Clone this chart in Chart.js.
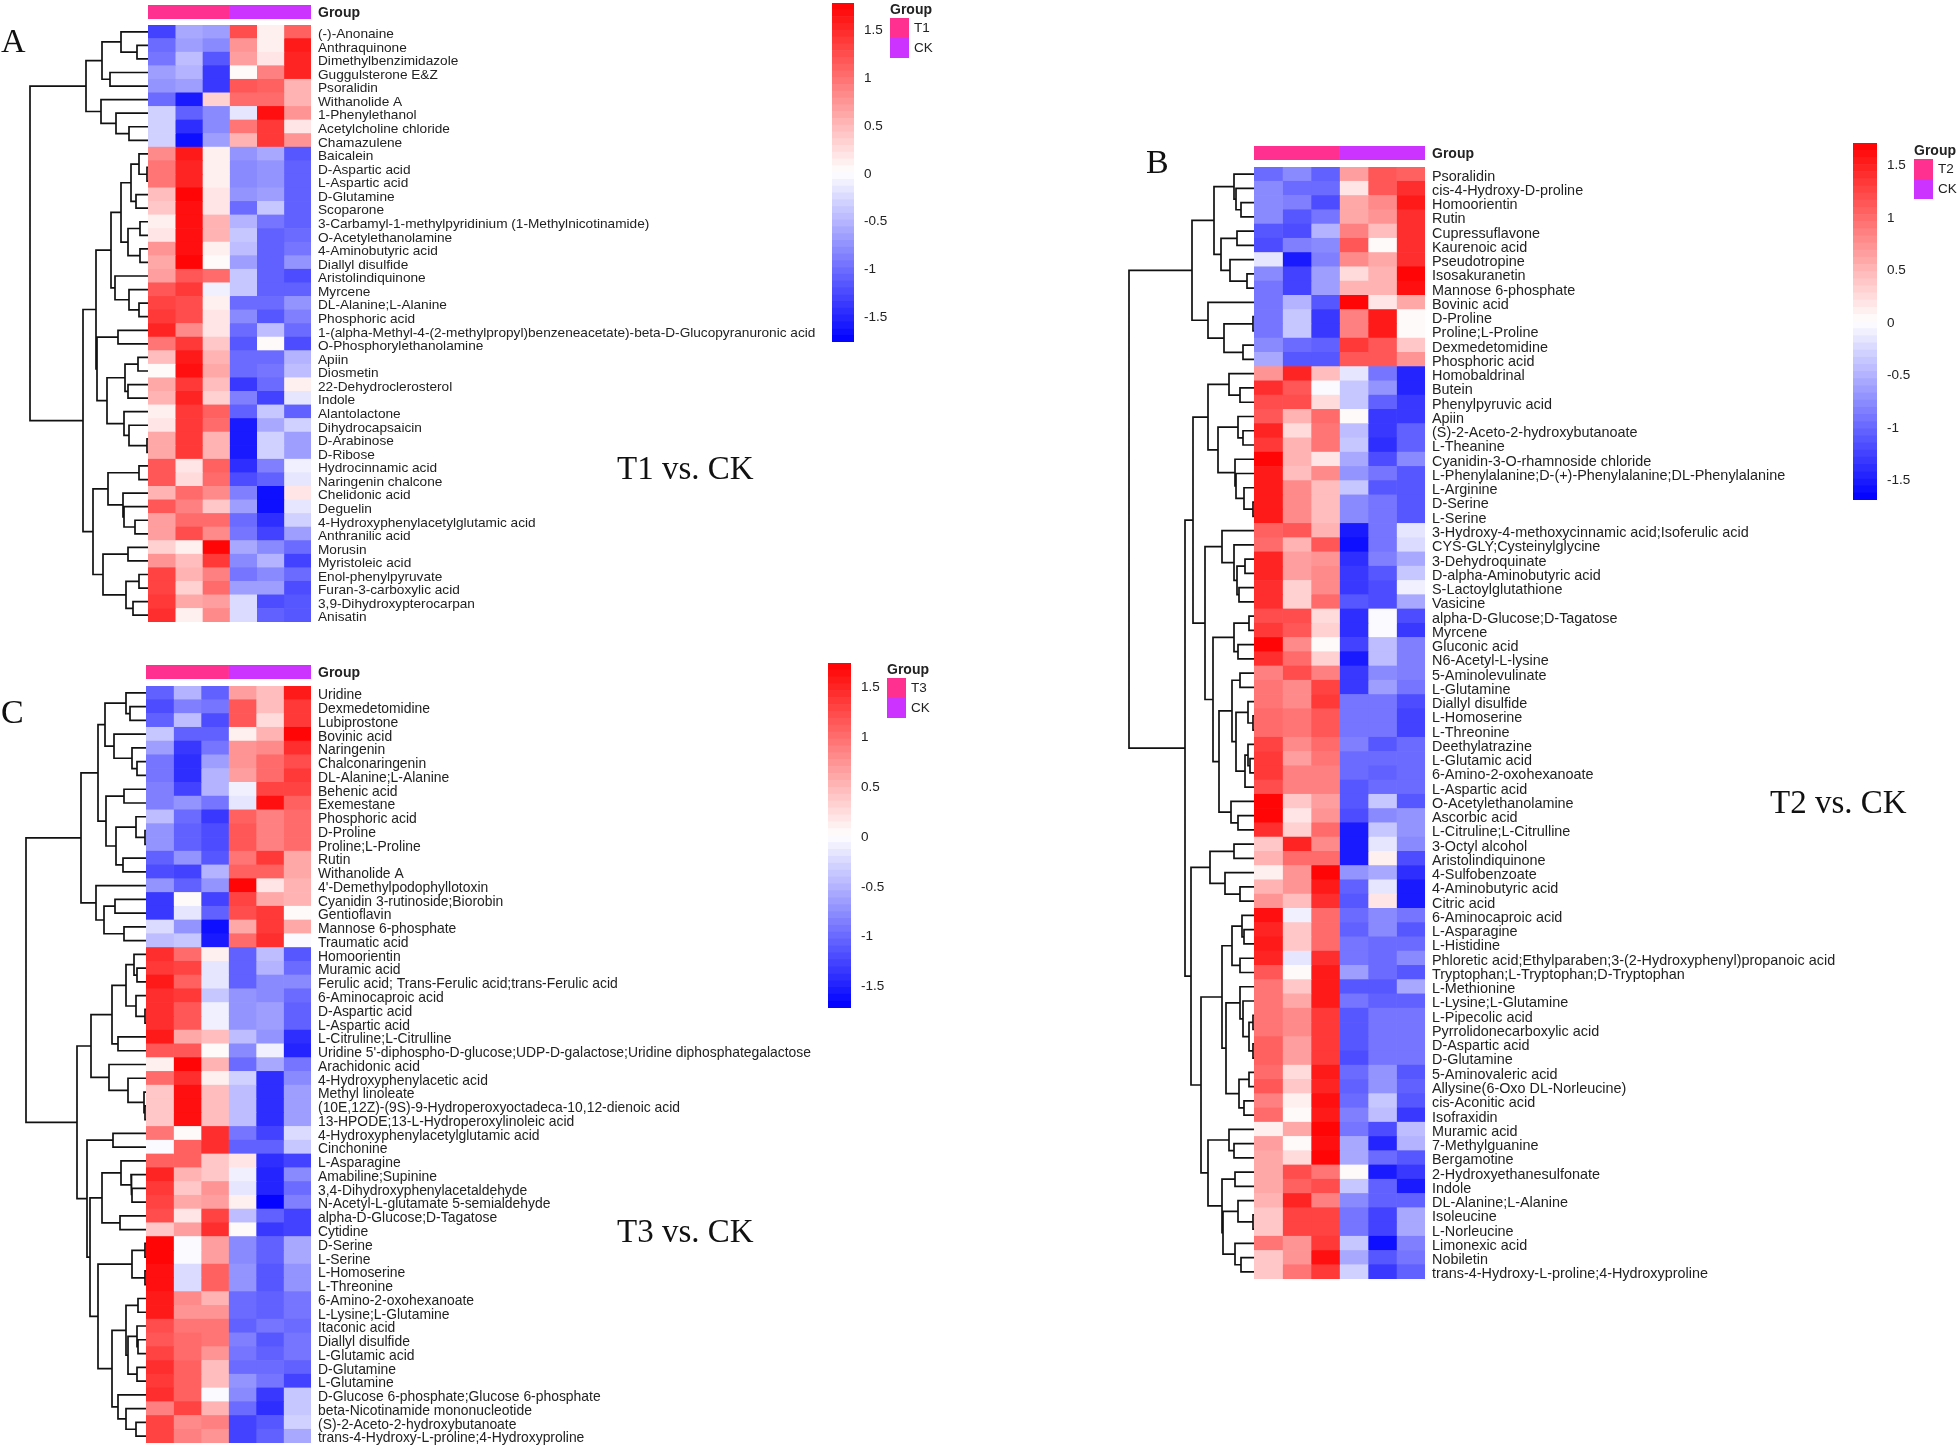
<!DOCTYPE html>
<html lang="en">
  <head>
    <meta charset="UTF-8" />
    <title>Metabolite heatmaps</title>
    <script src="https://cdn.jsdelivr.net/npm/chart.js@4"></script>
    <style>
      body {
        margin: 0;
        width: 1960px;
        height: 1446px;
        background: #ffffff;
        position: relative;
        overflow: hidden;
        font-family: "Liberation Sans", Arial, sans-serif;
        color: #222;
      }
      canvas,
      .txt,
      .swatch {
        position: absolute;
      }
      .txt {
        white-space: nowrap;
        line-height: 1;
      }
      .serif {
        font-family: "Liberation Serif", "Times New Roman", serif;
        color: #111;
      }
    </style>
  </head>
  <body>
    <script>
      const namesA = [
        "(-)-Anonaine", "Anthraquinone", "Dimethylbenzimidazole", "Guggulsterone E&Z", "Psoralidin",
        "Withanolide A", "1-Phenylethanol", "Acetylcholine chloride", "Chamazulene", "Baicalein",
        "D-Aspartic acid", "L-Aspartic acid", "D-Glutamine", "Scoparone",
        "3-Carbamyl-1-methylpyridinium (1-Methylnicotinamide)", "O-Acetylethanolamine", "4-Aminobutyric acid",
        "Diallyl disulfide", "Aristolindiquinone", "Myrcene", "DL-Alanine;L-Alanine", "Phosphoric acid",
        "1-(alpha-Methyl-4-(2-methylpropyl)benzeneacetate)-beta-D-Glucopyranuronic acid", "O-Phosphorylethanolamine",
        "Apiin", "Diosmetin", "22-Dehydroclerosterol", "Indole", "Alantolactone", "Dihydrocapsaicin", "D-Arabinose",
        "D-Ribose", "Hydrocinnamic acid", "Naringenin chalcone", "Chelidonic acid", "Deguelin",
        "4-Hydroxyphenylacetylglutamic acid", "Anthranilic acid", "Morusin", "Myristoleic acid", "Enol-phenylpyruvate",
        "Furan-3-carboxylic acid", "3,9-Dihydroxypterocarpan", "Anisatin",
      ];
      const valuesA = [
        [-1.3, -0.6, -0.7, 1.25, 0.1, 1.1],
        [-1.05, -0.65, -0.85, 0.75, 0.1, 1.6],
        [-0.95, -0.45, -1.2, 0.7, 0.2, 1.5],
        [-0.7, -0.5, -1.35, 0.03, 0.9, 1.5],
        [-0.75, -0.65, -1.35, 1.15, 1.1, 0.5],
        [-1.05, -1.6, 0.3, 1.0, 1.05, 0.5],
        [-0.35, -1.1, -0.85, -0.15, 1.65, 0.75],
        [-0.3, -1.45, -0.8, 0.95, 1.4, 0.2],
        [-0.3, -1.65, -0.65, 0.55, 1.35, 0.75],
        [0.85, 1.6, 0.08, -0.75, -0.6, -1.2],
        [0.95, 1.55, 0.1, -0.8, -0.75, -1.1],
        [0.95, 1.55, 0.1, -0.8, -0.75, -1.1],
        [0.45, 1.75, 0.2, -0.75, -0.65, -1.1],
        [0.4, 1.7, 0.2, -1.0, -0.4, -1.1],
        [0.08, 1.7, 0.55, -0.5, -0.95, -1.1],
        [0.15, 1.7, 0.5, -0.4, -1.1, -1.0],
        [0.75, 1.65, 0.12, -0.45, -1.1, -0.95],
        [0.6, 1.75, 0.05, -0.65, -1.1, -0.75],
        [0.65, 1.15, 1.0, -0.4, -1.1, -1.25],
        [1.15, 1.4, -0.12, -0.4, -1.1, -1.1],
        [1.3, 1.25, 0.12, -1.0, -1.05, -0.75],
        [1.35, 1.25, 0.2, -0.85, -1.15, -0.9],
        [1.55, 0.8, 0.2, -1.05, -0.45, -1.0],
        [0.95, 1.35, 0.4, -1.2, 0.03, -1.25],
        [0.45, 1.6, 0.5, -1.0, -1.0, -0.5],
        [0.03, 1.7, 0.6, -1.05, -0.95, -0.45],
        [0.6, 1.35, 0.45, -1.4, -1.05, 0.1],
        [0.55, 1.55, 0.35, -0.9, -1.3, -0.15],
        [0.1, 1.4, 1.1, -1.1, -0.4, -1.1],
        [0.2, 1.4, 1.0, -1.6, -0.6, -0.3],
        [0.6, 1.4, 0.5, -1.6, -0.35, -0.65],
        [0.6, 1.4, 0.5, -1.6, -0.35, -0.65],
        [1.2, 0.2, 1.1, -1.45, -0.9, -0.1],
        [1.2, 0.25, 1.05, -1.25, -1.1, -0.2],
        [0.5, 1.05, 0.85, -0.9, -1.65, 0.2],
        [1.15, 0.9, 0.4, -0.7, -1.65, -0.2],
        [0.7, 1.05, 1.05, -1.0, -1.45, -0.35],
        [0.7, 1.25, 0.8, -0.95, -1.3, -0.65],
        [0.3, 0.08, 1.75, -0.6, -0.8, -1.05],
        [0.75, 0.45, 1.4, -0.85, -0.55, -1.3],
        [1.3, 0.55, 0.9, -0.95, -0.85, -1.05],
        [1.3, 0.3, 1.0, -0.7, -0.7, -1.25],
        [1.35, 0.6, 0.7, -0.25, -1.25, -1.15],
        [1.45, 0.1, 0.85, -0.25, -1.1, -1.15],
      ];
      // tree nodes are [height, left, right], 0 is a leaf, leaves run in row order
      const treeA = [118,
        [62,
          [46, [27, 0, [11, 0, 0]], [38, 0, 0]],
          [47, 0, [32, 0, [19, 0, 0]]]],
        [65,
          [52,
            [37,
              [27, [17, [9, 0, [1, 0, 0]], [12, 0, 0]], [20, [8, 0, 0], [8, 0, 0]]],
              [33, 0, [19, 0, [9, 0, 0]]]],
            [51,
              [30, 0, 0],
              [41, [23, [10, 0, 0], [20, 0, 0]], [24, 0, [19, 0, [1, 0, 0]]]]]],
          [55,
            [40, [9, 0, 0], [25, 0, [24, 0, [13, 0, 0]]]],
            [45, [20, 0, 0], [22, [9, 0, 0], [15, 0, 0]]]]]];

      const namesB = [
        "Psoralidin", "cis-4-Hydroxy-D-proline", "Homoorientin", "Rutin", "Cupressuflavone", "Kaurenoic acid",
        "Pseudotropine", "Isosakuranetin", "Mannose 6-phosphate", "Bovinic acid", "D-Proline", "Proline;L-Proline",
        "Dexmedetomidine", "Phosphoric acid", "Homobaldrinal", "Butein", "Phenylpyruvic acid", "Apiin",
        "(S)-2-Aceto-2-hydroxybutanoate", "L-Theanine", "Cyanidin-3-O-rhamnoside chloride",
        "L-Phenylalanine;D-(+)-Phenylalanine;DL-Phenylalanine", "L-Arginine", "D-Serine", "L-Serine",
        "3-Hydroxy-4-methoxycinnamic acid;Isoferulic acid", "CYS-GLY;Cysteinylglycine", "3-Dehydroquinate",
        "D-alpha-Aminobutyric acid", "S-Lactoylglutathione", "Vasicine", "alpha-D-Glucose;D-Tagatose", "Myrcene",
        "Gluconic acid", "N6-Acetyl-L-lysine", "5-Aminolevulinate", "L-Glutamine", "Diallyl disulfide", "L-Homoserine",
        "L-Threonine", "Deethylatrazine", "L-Glutamic acid", "6-Amino-2-oxohexanoate", "L-Aspartic acid",
        "O-Acetylethanolamine", "Ascorbic acid", "L-Citruline;L-Citrulline", "3-Octyl alcohol", "Aristolindiquinone",
        "4-Sulfobenzoate", "4-Aminobutyric acid", "Citric acid", "6-Aminocaproic acid", "L-Asparagine", "L-Histidine",
        "Phloretic acid;Ethylparaben;3-(2-Hydroxyphenyl)propanoic acid", "Tryptophan;L-Tryptophan;D-Tryptophan",
        "L-Methionine", "L-Lysine;L-Glutamine", "L-Pipecolic acid", "Pyrrolidonecarboxylic acid", "D-Aspartic acid",
        "D-Glutamine", "5-Aminovaleric acid", "Allysine(6-Oxo DL-Norleucine)", "cis-Aconitic acid", "Isofraxidin",
        "Muramic acid", "7-Methylguanine", "Bergamotine", "2-Hydroxyethanesulfonate", "Indole", "DL-Alanine;L-Alanine",
        "Isoleucine", "L-Norleucine", "Limonexic acid", "Nobiletin", "trans-4-Hydroxy-L-proline;4-Hydroxyproline",
      ];
      const valuesB = [
        [-1.0, -0.75, -1.05, 0.65, 1.15, 1.05],
        [-0.75, -1.0, -1.0, 0.2, 1.15, 1.4],
        [-0.8, -0.85, -1.2, 0.6, 0.75, 1.5],
        [-0.8, -1.15, -0.9, 0.6, 0.7, 1.4],
        [-1.15, -1.2, -0.5, 0.85, 0.45, 1.4],
        [-1.2, -0.85, -0.75, 1.1, 0.03, 1.4],
        [-0.2, -1.55, -0.85, 0.75, 0.6, 1.4],
        [-0.75, -1.25, -0.65, 0.25, 0.5, 1.7],
        [-0.9, -1.25, -0.65, 0.5, 0.5, 1.6],
        [-0.95, -0.5, -1.15, 1.7, 0.2, 0.55],
        [-0.95, -0.4, -1.3, 0.85, 1.55, 0.05],
        [-0.95, -0.4, -1.3, 0.85, 1.55, 0.05],
        [-0.8, -1.0, -1.05, 1.3, 1.15, 0.4],
        [-0.6, -1.1, -1.1, 1.1, 1.15, 0.7],
        [0.7, 1.45, 0.45, -0.2, -0.95, -1.45],
        [1.4, 1.15, -0.05, -0.35, -0.7, -1.45],
        [1.2, 1.2, 0.25, -0.35, -1.05, -1.3],
        [1.1, 0.5, 1.0, 0.04, -1.3, -1.3],
        [1.45, 0.25, 0.95, -0.45, -1.3, -1.05],
        [1.3, 0.5, 0.95, -0.35, -1.4, -1.05],
        [1.7, 0.5, 0.2, -0.6, -1.2, -0.8],
        [1.55, 0.45, 0.75, -0.7, -0.95, -1.1],
        [1.5, 0.8, 0.45, -0.4, -1.15, -1.15],
        [1.5, 0.8, 0.45, -0.75, -0.95, -1.15],
        [1.5, 0.8, 0.45, -0.75, -0.95, -1.15],
        [1.05, 1.15, 0.5, -1.55, -0.95, -0.2],
        [1.0, 0.5, 1.15, -1.6, -0.9, -0.25],
        [1.45, 0.65, 0.7, -1.4, -0.85, -0.55],
        [1.45, 0.65, 0.75, -1.35, -1.1, -0.4],
        [1.4, 0.3, 0.8, -1.3, -1.2, -0.08],
        [1.4, 0.3, 1.0, -1.1, -1.2, -0.55],
        [1.2, 1.2, 0.25, -1.4, -0.03, -1.2],
        [1.3, 1.1, 0.3, -1.4, -0.03, -1.35],
        [1.7, 0.75, 0.03, -1.25, -0.45, -0.85],
        [1.4, 1.0, 0.3, -1.55, -0.45, -0.85],
        [0.85, 1.2, 0.85, -1.35, -0.8, -0.85],
        [0.9, 0.8, 1.25, -1.35, -0.65, -0.95],
        [0.95, 0.75, 1.3, -0.95, -0.95, -1.2],
        [1.0, 0.9, 1.1, -0.95, -0.95, -1.25],
        [1.0, 0.9, 1.1, -0.95, -0.95, -1.25],
        [1.25, 0.75, 1.0, -0.85, -1.1, -1.0],
        [1.3, 0.65, 0.95, -1.0, -1.0, -1.0],
        [1.3, 0.85, 0.85, -1.0, -1.05, -1.0],
        [1.2, 0.85, 0.85, -1.1, -1.0, -1.0],
        [1.7, 0.35, 0.65, -1.1, -0.35, -1.15],
        [1.7, 0.2, 0.7, -1.2, -0.75, -0.7],
        [1.4, 0.3, 1.0, -1.55, -0.35, -0.7],
        [0.35, 1.45, 0.8, -1.55, -0.2, -0.75],
        [0.5, 1.0, 1.0, -1.55, 0.12, -1.2],
        [0.12, 0.7, 1.7, -0.7, -0.55, -1.4],
        [0.5, 0.7, 1.5, -1.05, -0.2, -1.5],
        [0.7, 0.45, 1.4, -1.15, 0.2, -1.55],
        [1.6, -0.08, 1.0, -1.0, -0.8, -0.9],
        [1.45, 0.35, 1.0, -1.05, -0.75, -1.1],
        [1.5, 0.35, 1.0, -0.9, -1.0, -1.0],
        [1.45, -0.2, 1.4, -0.9, -1.0, -0.75],
        [1.15, 0.05, 1.5, -0.65, -1.0, -1.1],
        [0.9, 0.4, 1.5, -1.1, -1.1, -0.55],
        [0.9, 0.6, 1.5, -0.9, -1.05, -1.05],
        [0.9, 0.8, 1.35, -1.1, -0.95, -0.95],
        [0.9, 0.8, 1.35, -1.1, -0.95, -0.95],
        [1.05, 0.65, 1.3, -1.1, -0.95, -0.95],
        [1.05, 0.65, 1.3, -1.2, -0.95, -0.95],
        [1.0, 0.25, 1.5, -1.0, -0.7, -1.1],
        [1.15, 0.35, 1.45, -1.05, -0.7, -1.05],
        [0.85, 0.12, 1.6, -1.0, -0.4, -1.1],
        [1.0, 0.05, 1.55, -0.85, -0.45, -1.35],
        [0.12, 0.55, 1.7, -0.9, -1.2, -0.45],
        [0.65, 0.04, 1.6, -0.55, -1.45, -0.5],
        [0.6, 0.25, 1.65, -0.6, -1.0, -1.1],
        [0.55, 1.2, 0.9, 0.03, -1.5, -1.3],
        [0.55, 1.05, 1.2, -0.35, -1.05, -1.5],
        [0.5, 1.45, 0.85, -0.8, -1.05, -1.05],
        [0.35, 1.25, 1.25, -0.9, -1.25, -0.6],
        [0.35, 1.25, 1.25, -0.9, -1.25, -0.6],
        [0.9, 0.7, 1.3, -0.4, -1.6, -0.85],
        [0.4, 0.7, 1.6, -0.6, -1.15, -0.95],
        [0.4, 0.95, 1.35, -0.3, -1.3, -1.05],
      ];
      const treeB = [125,
        [62,
          [40, [20, 0, [18, 0, [13, 0, 0]]], [33, [17, 0, 0], [24, 0, [7, 0, 0]]]],
          [46, 0, [30, [1, 0, 0], [11, 0, 0]]]],
        [69,
          [61,
            [46, [25, 0, [14, 0, 0]], [36, [16, 0, [11, 0, 0]], [19, 0, [18, 0, [10, 0, [1, 0, 0]]]]]],
            [49,
              [32, 0, [20, 0, [17, [9, 0, 0], [15, 0, 0]]]],
              [41,
                [20, [5, 0, 0], [16, 0, 0]],
                [35,
                  [22, [14, 0, 0], [18, [6, 0, [1, 0, 0]], [9, [6, 0, [4, 0, 0]], 0]]],
                  [23, 0, [16, 0, 0]]]]]],
          [63,
            [44, [20, 0, 0], [29, 0, [14, 0, 0]]],
            [53,
              [32,
                [22, [12, 0, [10, 0, 0]], [14, 0, 0]],
                [28, [14, 0, [11, 0, [5, [1, 0, 0], [1, 0, 0]]]], [15, [5, 0, 0], [10, 0, 0]]]],
              [46,
                [25, 0, [20, 0, 0]],
                [32, [19, 0, 0], [31, [16, 0, [1, 0, 0]], [19, 0, [13, 0, 0]]]]]]]]];

      const namesC = [
        "Uridine", "Dexmedetomidine", "Lubiprostone", "Bovinic acid", "Naringenin", "Chalconaringenin",
        "DL-Alanine;L-Alanine", "Behenic acid", "Exemestane", "Phosphoric acid", "D-Proline", "Proline;L-Proline",
        "Rutin", "Withanolide A", "4'-Demethylpodophyllotoxin", "Cyanidin 3-rutinoside;Biorobin", "Gentioflavin",
        "Mannose 6-phosphate", "Traumatic acid", "Homoorientin", "Muramic acid",
        "Ferulic acid; Trans-Ferulic acid;trans-Ferulic acid", "6-Aminocaproic acid", "D-Aspartic acid",
        "L-Aspartic acid", "L-Citruline;L-Citrulline",
        "Uridine 5'-diphospho-D-glucose;UDP-D-galactose;Uridine diphosphategalactose", "Arachidonic acid",
        "4-Hydroxyphenylacetic acid", "Methyl linoleate", "(10E,12Z)-(9S)-9-Hydroperoxyoctadeca-10,12-dienoic acid",
        "13-HPODE;13-L-Hydroperoxylinoleic acid", "4-Hydroxyphenylacetylglutamic acid", "Cinchonine", "L-Asparagine",
        "Amabiline;Supinine", "3,4-Dihydroxyphenylacetaldehyde", "N-Acetyl-L-glutamate 5-semialdehyde",
        "alpha-D-Glucose;D-Tagatose", "Cytidine", "D-Serine", "L-Serine", "L-Homoserine", "L-Threonine",
        "6-Amino-2-oxohexanoate", "L-Lysine;L-Glutamine", "Itaconic acid", "Diallyl disulfide", "L-Glutamic acid",
        "D-Glutamine", "L-Glutamine", "D-Glucose 6-phosphate;Glucose 6-phosphate", "beta-Nicotinamide mononucleotide",
        "(S)-2-Aceto-2-hydroxybutanoate", "trans-4-Hydroxy-L-proline;4-Hydroxyproline",
      ];
      const valuesC = [
        [-1.1, -0.5, -1.05, 0.65, 0.45, 1.55],
        [-1.2, -0.85, -0.9, 1.15, 0.45, 1.35],
        [-1.05, -0.45, -1.2, 1.15, 0.25, 1.35],
        [-0.4, -1.05, -1.05, 0.12, 0.55, 1.7],
        [-0.65, -1.35, -0.9, 0.75, 0.8, 1.4],
        [-0.95, -1.4, -0.65, 0.75, 1.0, 1.2],
        [-0.95, -1.4, -0.5, 0.65, 1.0, 1.35],
        [-0.85, -1.25, -0.55, -0.1, 1.3, 1.3],
        [-0.85, -0.75, -0.9, -0.15, 1.6, 1.05],
        [-0.45, -1.0, -1.35, 1.1, 0.85, 1.0],
        [-0.75, -1.1, -1.2, 1.15, 0.85, 1.0],
        [-0.75, -1.1, -1.2, 1.15, 0.85, 1.0],
        [-1.05, -0.75, -1.15, 0.9, 1.35, 0.6],
        [-1.2, -1.25, -0.55, 1.05, 1.05, 0.6],
        [-0.75, -1.05, -0.75, 1.73, 0.2, 0.55],
        [-1.35, 0.05, -1.3, 1.3, 0.6, 0.55],
        [-1.35, -0.15, -1.1, 1.2, 1.35, 0.06],
        [-0.25, -0.7, -1.6, 0.6, 1.35, 0.6],
        [-0.45, -0.35, -1.55, 1.0, 1.4, -0.03],
        [1.4, 1.0, 0.1, -1.05, -0.45, -1.15],
        [1.35, 1.3, -0.15, -1.1, -0.55, -1.0],
        [1.55, 1.1, -0.15, -1.05, -0.8, -0.8],
        [1.4, 1.35, -0.35, -0.7, -0.8, -1.0],
        [1.4, 1.15, -0.12, -0.75, -0.65, -1.05],
        [1.4, 1.15, -0.12, -0.75, -0.65, -1.05],
        [1.55, 0.6, 0.45, -0.45, -0.75, -1.45],
        [1.15, 1.15, 0.05, -0.8, -0.12, -1.5],
        [0.12, 1.7, 0.55, -1.0, -0.6, -0.9],
        [1.0, 1.45, 0.12, -0.3, -1.4, -0.8],
        [0.35, 1.6, 0.45, -0.45, -1.4, -0.65],
        [0.35, 1.6, 0.45, -0.45, -1.4, -0.65],
        [0.35, 1.6, 0.45, -0.45, -1.4, -0.65],
        [0.9, 0.05, 1.4, -0.9, -1.3, -0.25],
        [-0.05, 1.05, 1.45, -1.05, -1.05, -0.4],
        [1.1, 1.05, 0.35, 0.15, -1.4, -1.25],
        [1.5, 0.5, 0.35, -0.12, -1.5, -0.8],
        [1.35, 0.4, 0.75, -0.15, -1.5, -1.0],
        [1.25, 0.6, 0.65, 0.1, -1.73, -0.85],
        [1.2, 0.2, 1.3, -0.45, -1.1, -1.25],
        [0.35, 0.65, 1.4, 0.04, -1.35, -1.25],
        [1.73, -0.05, 0.65, -0.8, -1.05, -0.6],
        [1.73, -0.05, 0.65, -0.8, -1.05, -0.6],
        [1.6, -0.25, 1.05, -0.7, -1.15, -0.7],
        [1.6, -0.25, 1.05, -0.7, -1.15, -0.7],
        [1.55, 0.8, 0.55, -1.0, -1.05, -0.9],
        [1.55, 0.7, 0.75, -1.0, -1.05, -0.9],
        [1.2, 0.95, 0.9, -1.1, -0.95, -1.0],
        [1.15, 1.0, 0.95, -0.85, -1.15, -0.95],
        [1.3, 1.0, 0.7, -0.95, -1.1, -0.95],
        [1.45, 1.05, 0.45, -1.0, -1.0, -1.1],
        [1.35, 1.05, 0.45, -0.7, -0.9, -1.3],
        [1.45, 1.05, -0.02, -0.8, -1.35, -0.4],
        [0.85, 1.3, 0.5, -1.0, -1.4, -0.35],
        [1.25, 0.8, 0.85, -1.3, -1.15, -0.3],
        [1.25, 0.85, 0.7, -1.3, -1.1, -0.6],
      ];
      const treeC = [120,
        [65,
          [48,
            [41, [20, 0, [16, 0, 0]], [32, 0, [14, 0, [9, 0, 0]]]],
            [40, [22, 0, 0], [30, [10, 0, [1, 0, 0]], [23, 0, 0]]]],
          [50, 0, [42, [31, 0, 0], [22, 0, 0]]]],
        [69,
          [55,
            [34, [20, [12, 0, [9, 0, 0]], [10, 0, [1, 0, 0]]], [28, 0, 0]],
            [37, 0, [18, 0, [2, 0, [1, 0, 0]]]]],
          [59,
            [33, 0, 0],
            [56,
              [44, [25, 0, [15, 0, [14, 0, 0]]], [26, 0, 0]],
              [48,
                [14, [1, 0, 0], [1, 0, 0]],
                [34,
                  [20, [8, 0, 0], [18, [9, 0, [8, 0, 0]], [9, 0, 0]]],
                  [28, 0, [20, 0, [10, 0, 0]]]]]]]]];

      const legendTicks = [1.5, 1, 0.5, 0, -0.5, -1, -1.5];
      const groupColors = ["#ff3090", "#cc33ff"];
      const colorSteps = 50;

      Chart.defaults.font.family = '"Liberation Sans", Arial, sans-serif';
      Chart.defaults.color = "#222";
      Chart.defaults.animation = false;
      Chart.defaults.events = [];
      Chart.defaults.plugins.legend.display = false;
      Chart.defaults.plugins.tooltip.enabled = false;

      function addCanvas(left, top, width, height) {
        const c = document.createElement("canvas");
        c.width = width;
        c.height = height;
        c.style.left = left + "px";
        c.style.top = top + "px";
        c.style.width = width + "px";
        c.style.height = height + "px";
        document.body.appendChild(c);
        return c;
      }

      function addText(text, left, top, size, extra) {
        const d = document.createElement("div");
        d.className = "txt " + (extra || "");
        d.textContent = text;
        d.style.left = left + "px";
        d.style.top = top + "px";
        d.style.fontSize = size + "px";
        document.body.appendChild(d);
        return d;
      }

      // blue-white-red ramp cut in steps, like the colour key
      function stepColor(i) {
        const t = (i + 0.5) / colorSteps;
        if (t < 0.5) {
          const g = Math.round(255 * (t / 0.5));
          return `rgb(${g},${g},255)`;
        }
        const g = Math.round(255 * ((1 - t) / 0.5));
        return `rgb(255,${g},${g})`;
      }

      function valueColor(v, range) {
        let i = Math.floor(((v + range) / (2 * range)) * colorSteps);
        i = Math.max(0, Math.min(colorSteps - 1, i));
        return stepColor(i);
      }

      // keeps the plot area flush with the canvas and the labels in a fixed strip
      function fixedAxis(labelWidth) {
        return (scale) => {
          scale.width = labelWidth;
          scale.paddingTop = 0;
          scale.paddingBottom = 0;
        };
      }

      function drawHeatmap(names, values, range, box, labelSize) {
        const labelWidth = 660;
        const below = 8; // room for the last label's descenders
        const datasets = [0, 1, 2, 3, 4, 5].map((c) => ({
          data: names.map(() => [c, c + 1]),
          backgroundColor: values.map((row) => valueColor(row[c], range)),
          borderWidth: 0,
          barPercentage: 1,
          categoryPercentage: 1,
          grouped: false,
        }));
        new Chart(addCanvas(box.left, box.top, box.width + labelWidth, box.height + below), {
          type: "bar",
          data: { labels: names, datasets: datasets },
          options: {
            responsive: false,
            indexAxis: "y",
            layout: { padding: { bottom: below } },
            scales: {
              x: { type: "linear", min: 0, max: 6, display: false },
              y: {
                position: "right",
                grid: { display: false, drawTicks: false },
                border: { display: false },
                ticks: {
                  autoSkip: false,
                  padding: 7,
                  labelOffset: 2.5,
                  font: { size: labelSize },
                  color: "#222",
                },
                afterFit: fixedAxis(labelWidth),
              },
            },
          },
        });
      }

      function drawGroupBar(box) {
        const labelWidth = 80;
        const below = 4;
        new Chart(addCanvas(box.left, box.top, box.width + labelWidth, box.height + below), {
          type: "bar",
          data: {
            labels: ["Group"],
            datasets: groupColors.map((color, i) => ({
              data: [[i * 3, i * 3 + 3]],
              backgroundColor: color,
              borderWidth: 0,
              barPercentage: 1,
              categoryPercentage: 1,
              grouped: false,
            })),
          },
          options: {
            responsive: false,
            indexAxis: "y",
            layout: { padding: { bottom: below } },
            scales: {
              x: { type: "linear", min: 0, max: 6, display: false },
              y: {
                position: "right",
                grid: { display: false, drawTicks: false },
                border: { display: false },
                ticks: { padding: 7, labelOffset: 1.5, font: { size: 14, weight: "bold" }, color: "#222" },
                afterFit: fixedAxis(labelWidth),
              },
            },
          },
        });
      }

      function treePoints(tree) {
        const points = [];
        let leaf = 0;
        function walk(node) {
          if (node === 0) {
            leaf += 1;
            return { h: 0, y: leaf - 0.5 };
          }
          const a = walk(node[1]);
          const b = walk(node[2]);
          points.push({ x: a.h, y: a.y }, { x: node[0], y: a.y }, { x: node[0], y: b.y }, { x: b.h, y: b.y });
          points.push({ x: null, y: null });
          return { h: node[0], y: (a.y + b.y) / 2 };
        }
        walk(tree);
        return points;
      }

      function drawTree(tree, rows, box) {
        const w = 130;
        new Chart(addCanvas(box.left - w, box.top, w, box.height), {
          type: "scatter",
          data: {
            datasets: [
              {
                data: treePoints(tree),
                showLine: true,
                spanGaps: false,
                pointRadius: 0,
                borderColor: "#111",
                borderWidth: 1.7,
                clip: false,
              },
            ],
          },
          options: {
            responsive: false,
            scales: {
              x: { type: "linear", min: 0, max: w, reverse: true, display: false },
              y: { type: "linear", min: 0, max: rows, reverse: true, display: false },
            },
          },
        });
      }

      function drawKey(range, box) {
        const labelWidth = 50;
        const step = (2 * range) / colorSteps;
        const datasets = [];
        for (let i = 0; i < colorSteps; i++) {
          datasets.push({
            data: [[-range + i * step, -range + (i + 1) * step]],
            backgroundColor: stepColor(i),
            borderWidth: 0,
            barPercentage: 1,
            categoryPercentage: 1,
            grouped: false,
          });
        }
        new Chart(addCanvas(box.left, box.top, box.width + labelWidth, box.height), {
          type: "bar",
          data: { labels: ["key"], datasets: datasets },
          options: {
            responsive: false,
            scales: {
              x: { display: false },
              y: {
                type: "linear",
                position: "right",
                min: -range,
                max: range,
                grid: { display: false, drawTicks: false },
                border: { display: false },
                afterBuildTicks: (scale) => {
                  scale.ticks = legendTicks.map((v) => ({ value: v }));
                },
                ticks: {
                  padding: 10,
                  labelOffset: 1.5,
                  font: { size: 13.5 },
                  color: "#222",
                  callback: (v) => String(v),
                },
                afterFit: fixedAxis(labelWidth),
              },
            },
          },
        });
      }

      function drawGroupKey(treat, left, top) {
        addText("Group", left, top - 16, 14).style.fontWeight = "bold";
        [treat, "CK"].forEach((name, i) => {
          const s = document.createElement("div");
          s.className = "swatch";
          s.style.cssText = `left:${left}px;top:${top + i * 20}px;width:19px;height:20px;background:${groupColors[i]}`;
          document.body.appendChild(s);
          addText(name, left + 24, top + i * 20 + 3, 13.5);
        });
      }

      function drawPanel(p) {
        drawHeatmap(p.names, p.values, p.range, p.heat, p.labelSize);
        drawGroupBar({ left: p.heat.left, top: p.groupTop, width: p.heat.width, height: 14 });
        drawTree(p.tree, p.names.length, p.heat);
        drawKey(p.range, p.key);
        drawGroupKey(p.treat, p.groupKey[0], p.groupKey[1]);
      }

      drawPanel({
        names: namesA, values: valuesA, tree: treeA, range: 1.775, treat: "T1", labelSize: 13.65,
        heat: { left: 148, top: 25, width: 163, height: 597 },
        groupTop: 5,
        key: { left: 832, top: 3, width: 22, height: 339 },
        groupKey: [890, 18],
      });
      drawPanel({
        names: namesB, values: valuesB, tree: treeB, range: 1.7, treat: "T2", labelSize: 14.4,
        heat: { left: 1254, top: 167, width: 171, height: 1112 },
        groupTop: 146,
        key: { left: 1853, top: 143, width: 24, height: 357 },
        groupKey: [1914, 159],
      });
      drawPanel({
        names: namesC, values: valuesC, tree: treeC, range: 1.73, treat: "T3", labelSize: 13.9,
        heat: { left: 146, top: 686, width: 165, height: 757 },
        groupTop: 665,
        key: { left: 828, top: 663, width: 23, height: 345 },
        groupKey: [887, 678],
      });

      addText("A", 1, 24, 34, "serif");
      addText("B", 1146, 145, 34, "serif");
      addText("C", 1, 695, 34, "serif");
      addText("T1 vs. CK", 617, 452, 33, "serif");
      addText("T2 vs. CK", 1770, 786, 33, "serif");
      addText("T3 vs. CK", 617, 1215, 33, "serif");
    </script>
  </body>
</html>
